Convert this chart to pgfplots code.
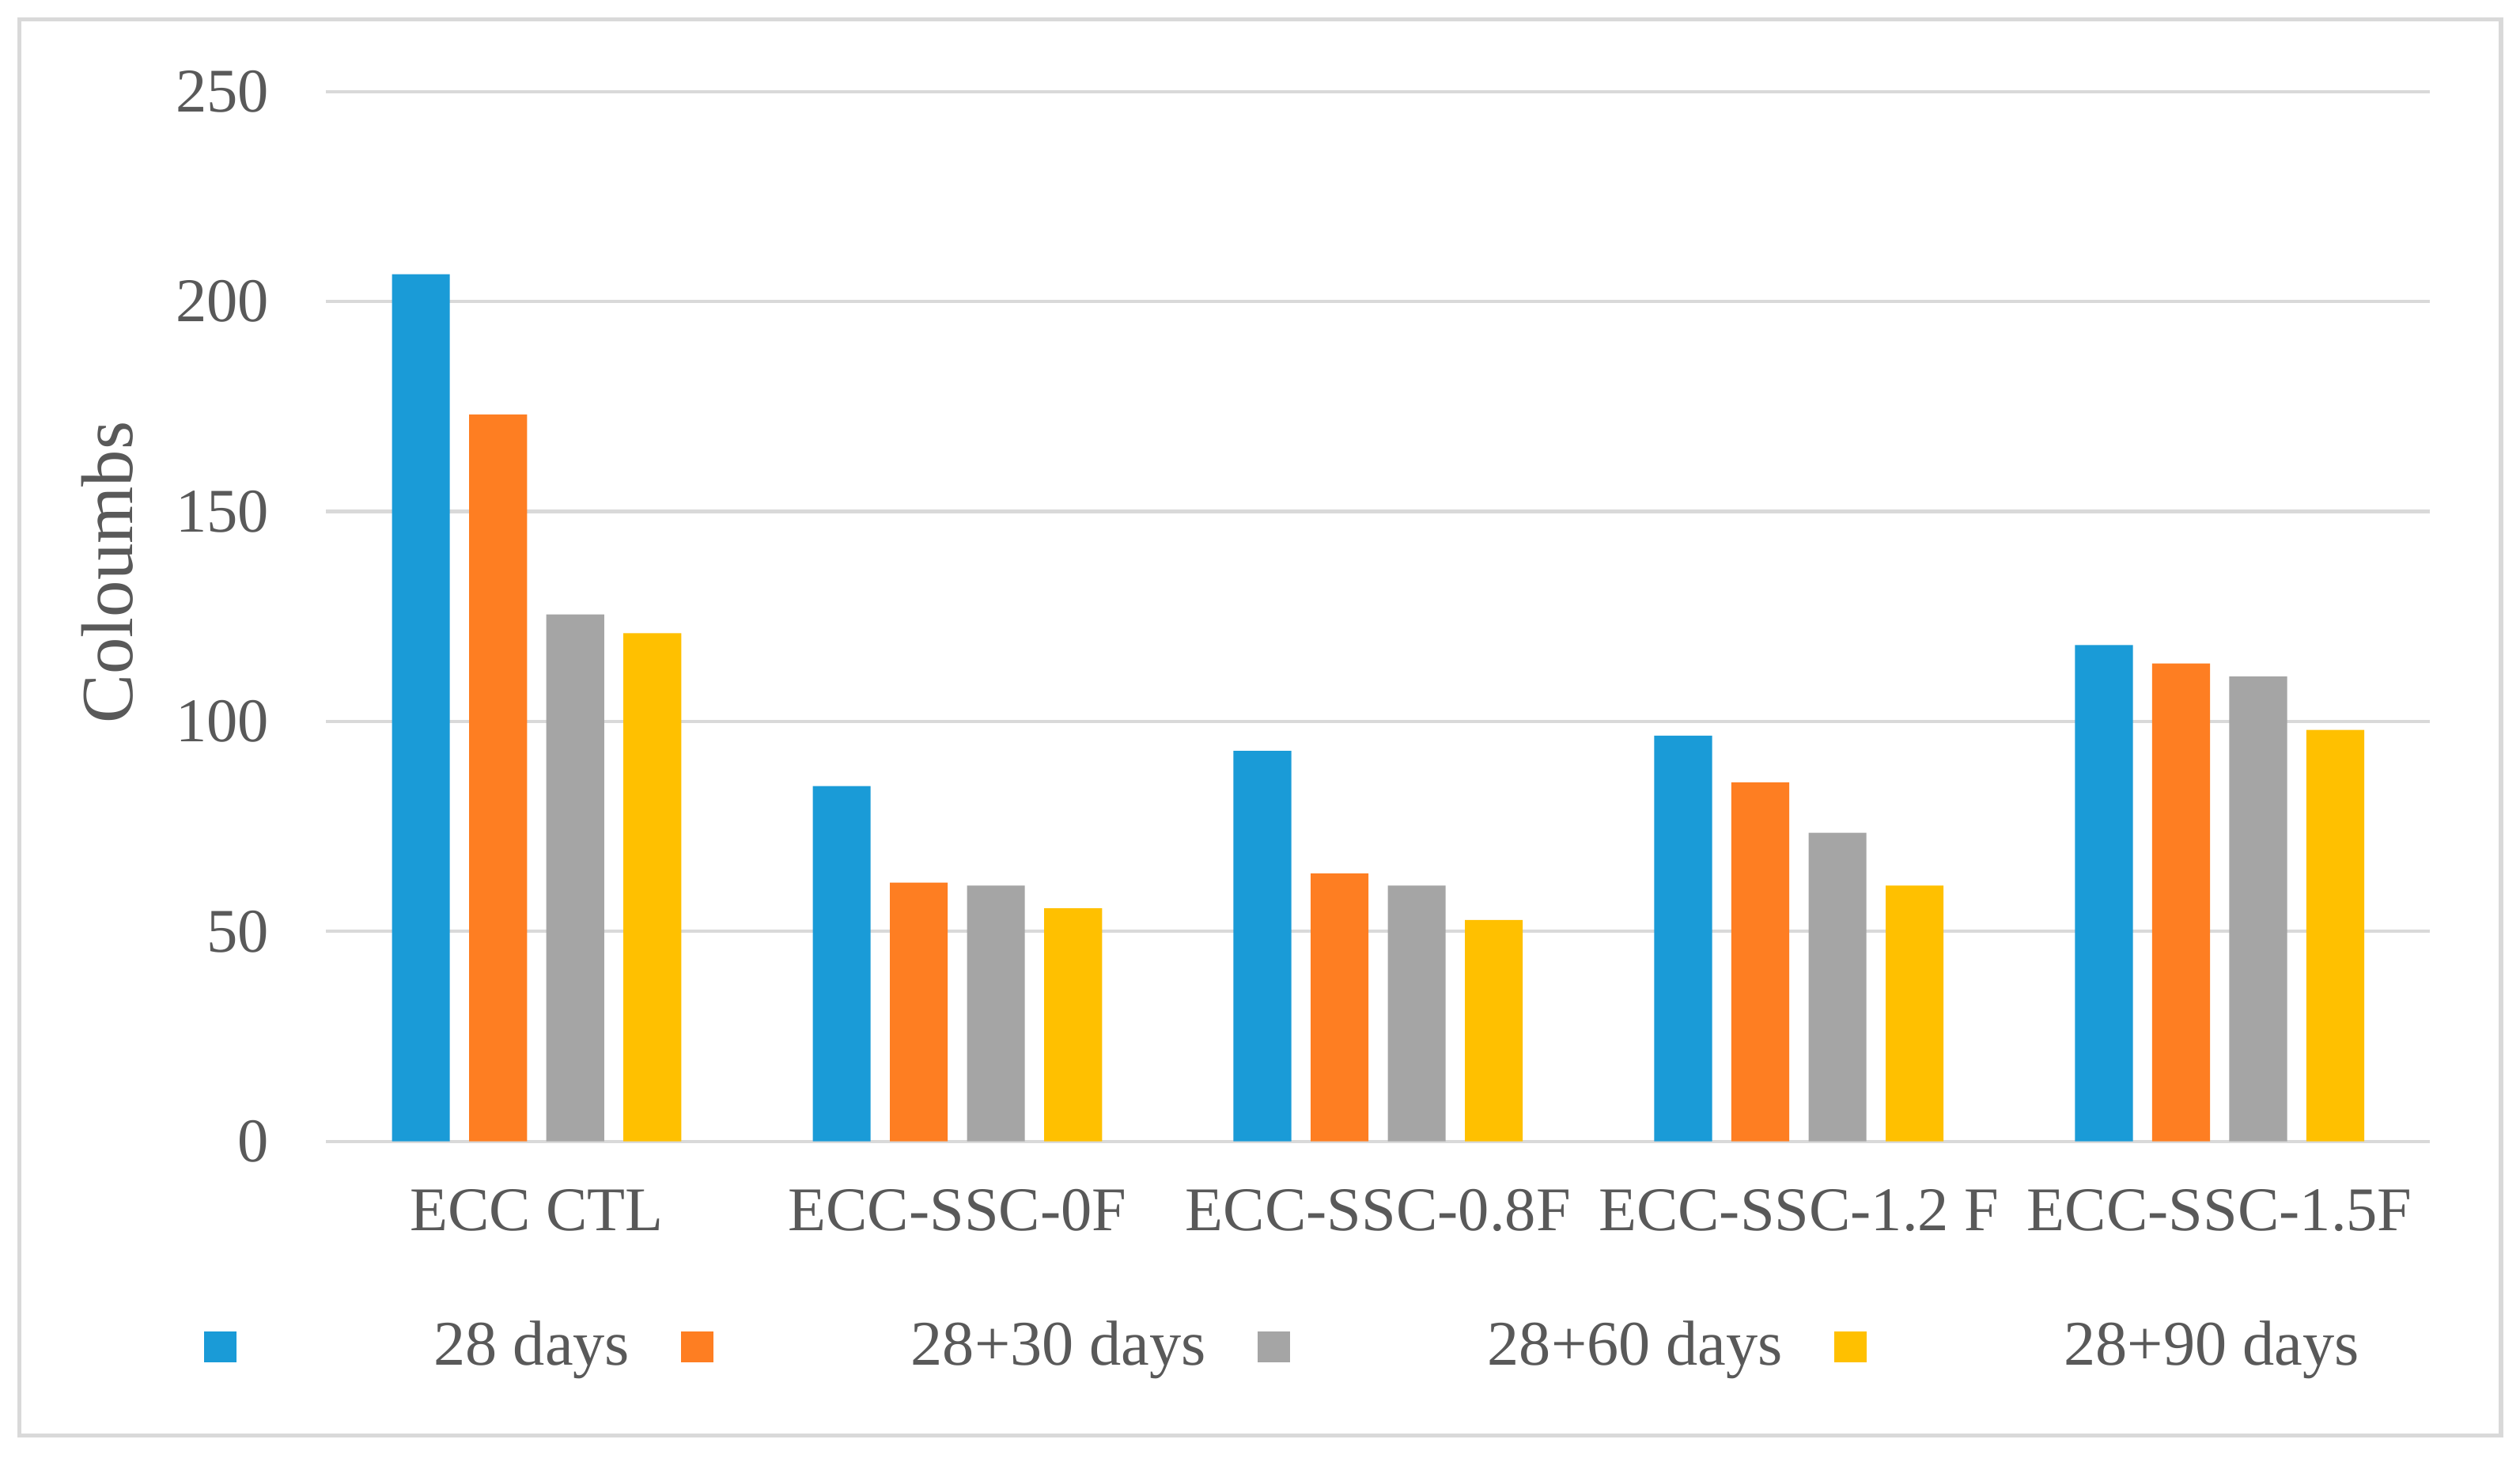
\documentclass[border=0pt]{standalone}
\usepackage{fontspec}
\setmainfont{Liberation Serif}
\usepackage{pgfplots}
\pgfplotsset{compat=1.18}
\definecolor{cblue}{HTML}{1A9BD7}
\definecolor{corange}{HTML}{FE7E22}
\definecolor{cgray}{HTML}{A5A5A5}
\definecolor{cyellow}{HTML}{FFC000}
\definecolor{gridgray}{HTML}{D9D9D9}
\definecolor{framegray}{HTML}{D9D9D9}
\definecolor{textgray}{HTML}{595959}
\begin{document}
\begin{tikzpicture}
\useasboundingbox (-20.3mm,-19.9mm) rectangle (136.5mm,71.0mm);
\fill[white] (-20.3mm,-19.9mm) rectangle (136.5mm,71.0mm);
\draw[color=framegray, line width=0.8pt] (-19.1mm,-18.3mm) rectangle (135.3mm,69.8mm);
\begin{axis}[
  at={(0,0)}, anchor=south west,
  scale only axis, width=130.9mm, height=65.3mm,
  ybar=1.2mm, bar width=3.6mm,
  xmin=-0.5, xmax=4.5, ymin=0, ymax=250,
  xtick={0,1,2,3,4},
  xticklabels={ECC CTL, ECC-SSC-0F, ECC-SSC-0.8F, ECC-SSC-1.2 F, ECC-SSC-1.5F},
  ytick={0,50,100,150,200,250},
  ymajorgrids, grid style={color=gridgray, line width=0.6pt},
  axis x line*=bottom, axis y line*=left,
  x axis line style={color=gridgray, line width=0.6pt},
  y axis line style={draw=none},
  major tick length=0pt,
  tick style={draw=none},
  /pgf/number format/assume math mode=true,
  ticklabel style={font=\fontsize{11}{13}\selectfont, text=textgray},
  xticklabel style={anchor=north, inner sep=0pt, yshift=-2.9mm},
  yticklabel style={anchor=east, inner sep=0pt, xshift=-3.5mm},
  ylabel={Coloumbs},
  ylabel style={at={(axis description cs:-0.104,0.542)}, anchor=center, font=\fontsize{13}{15}\selectfont, text=textgray},
  legend columns=4,
  legend style={at={(axis description cs:-0.0581,-0.196)}, anchor=west, draw=none, fill=none,
    inner sep=0pt, outer sep=0pt, font=\fontsize{11.25}{13}\selectfont, text=textgray,
    nodes={inner sep=0pt},
    /tikz/every odd column/.append style={column sep=12.3mm},
    /tikz/every even column/.append style={column sep=3.2mm}},
  legend image code/.code={\fill[#1] (0mm,-0.95mm) rectangle (2mm,0.95mm);},
]
\addplot[fill=cblue, draw=none] coordinates {(0,206.5) (1,84.6) (2,93.0) (3,96.6) (4,118.2)};
\addplot[fill=corange, draw=none] coordinates {(0,173.1) (1,61.6) (2,63.8) (3,85.5) (4,113.8)};
\addplot[fill=cgray, draw=none] coordinates {(0,125.5) (1,60.9) (2,60.9) (3,73.5) (4,110.7)};
\addplot[fill=cyellow, draw=none] coordinates {(0,121.0) (1,55.5) (2,52.7) (3,60.9) (4,98.0)};
\legend{28 days, 28+30 days, 28+60 days, 28+90 days}
\end{axis}
\end{tikzpicture}
\end{document}
